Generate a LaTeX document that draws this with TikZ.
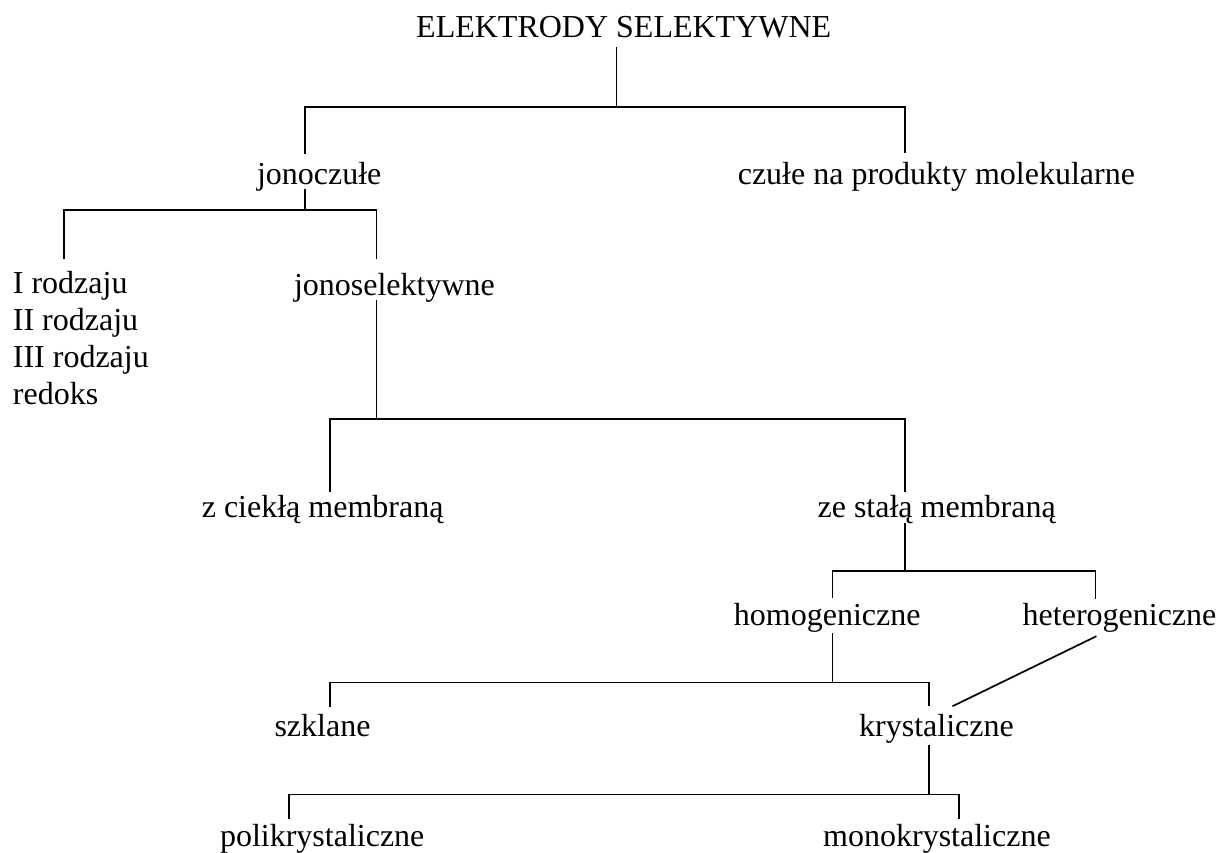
\documentclass[tikz,border=0pt]{standalone}
\usepackage{fontspec}
\setmainfont{Liberation Serif}
\begin{document}
\begin{tikzpicture}[x=1pt,y=-1pt,
  lbl/.style={anchor=base west,inner xsep=0pt,inner ysep=2pt,text height=26pt,text depth=4pt,font=\fontsize{32}{37}\selectfont},
  conn/.style={line width=1.7pt}]
\useasboundingbox (0,0) rectangle (1220,852);
% nodes
\node[lbl,text depth=8pt] (root) at (416,37.2) {ELEKTRODY SELEKTYWNE};
\node[lbl,text height=29pt,text depth=2pt] (jono) at (256.8,184.7) {jonoczułe};
\node[lbl,text height=29pt] (czule) at (737.6,184.5) {czułe na produkty molekularne};
\node[lbl,text height=32pt] (rodz) at (12.7,293) {\begin{tabular}[t]{@{}l@{}}I rodzaju\\II rodzaju\\III rodzaju\\redoks\end{tabular}};
\node[lbl,text height=33.5pt,text depth=3pt] (jsel) at (293.8,295) {jonoselektywne};
\node[lbl,text height=23pt] (ciekla) at (201.6,517) {z ciekłą membraną};
\node[lbl,text height=23pt] (stala) at (817.4,517) {ze stałą membraną};
\node[lbl,text height=24.5pt,text depth=6pt] (homo) at (733.7,625) {homogeniczne};
\node[lbl,text height=24pt,text depth=9pt] (hetero) at (1022.5,625) {heterogeniczne};
\node[lbl,text height=28pt] (szkl) at (274.3,736.7) {szklane};
\node[lbl,text height=27.5pt,text depth=7pt] (kryst) at (859,736) {krystaliczne};
\node[lbl,text height=25pt] (poli) at (219.8,846) {polikrystaliczne};
\node[lbl,text height=25pt] (mono) at (823,846) {monokrystaliczne};
% junctions and branch x positions
\coordinate (b1) at (616.6,107.3);
\coordinate (b2) at (304.7,210);
\coordinate (b3) at (376.6,419.3);
\coordinate (b4) at (904.8,570.7);
\coordinate (b5) at (832.6,682.5);
\coordinate (b6) at (929,794.5);
\coordinate (xa) at (304.7,0);
\coordinate (xb) at (904.8,0);
\coordinate (xc) at (64.2,0);
\coordinate (xd) at (376.6,0);
\coordinate (xe) at (330,0);
\coordinate (xf) at (832.6,0);
\coordinate (xg) at (1095.6,0);
\coordinate (xh) at (929,0);
\coordinate (xi) at (288.7,0);
\coordinate (xj) at (959,0);
\coordinate (xk) at (952.4,0);
\coordinate (xl) at (1096.4,0);
% connectors
\draw[conn] (root.south -| b1) -- (b1);
\draw[conn] (jono.north -| xa) -- (xa |- b1) -- (xb |- b1) -- (czule.north -| xb);
\draw[conn] (jono.south -| b2) -- (b2);
\draw[conn] (rodz.north -| xc) -- (xc |- b2) -- (xd |- b2) -- (jsel.north -| xd);
\draw[conn] (jsel.south -| b3) -- (b3);
\draw[conn] (ciekla.north -| xe) -- (xe |- b3) -- (xb |- b3) -- (stala.north -| xb);
\draw[conn] (stala.south -| b4) -- (b4);
\draw[conn] (homo.north -| xf) -- (xf |- b4) -- (xg |- b4) -- (hetero.north -| xg);
\draw[conn] (homo.south -| b5) -- (b5);
\draw[conn] (szkl.north -| xe) -- (xe |- b5) -- (xh |- b5) -- (kryst.north -| xh);
\draw[conn] (hetero.south -| xl) -- (kryst.north -| xk);
\draw[conn] (kryst.south -| b6) -- (b6);
\draw[conn] (poli.north -| xi) -- (xi |- b6) -- (xj |- b6) -- (mono.north -| xj);
\end{tikzpicture}
\end{document}
